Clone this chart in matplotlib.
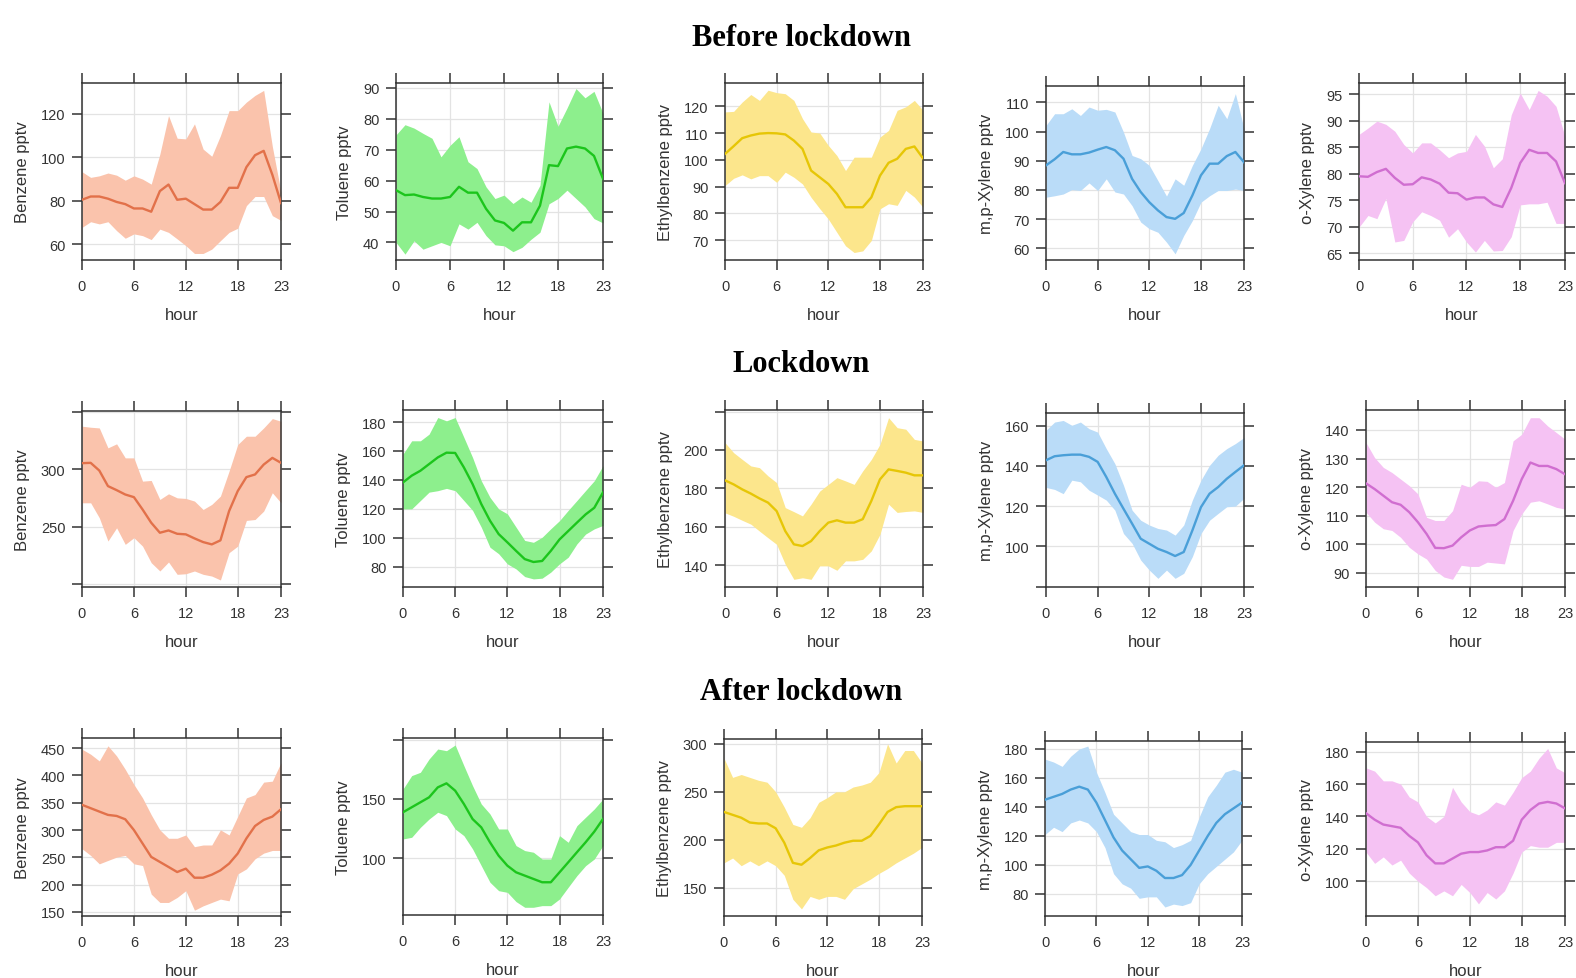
import matplotlib
matplotlib.use("Agg")
import matplotlib.pyplot as plt

plt.rcParams['font.family'] = ['Liberation Sans', 'DejaVu Sans']

hours = list(range(24))
x_ticks = [0, 6, 12, 18, 23]
periods = ["Before lockdown", "Lockdown", "After lockdown"]
species = ["Benzene", "Toluene", "Ethylbenzene", "m,p-Xylene", "o-Xylene"]
ylabels = ["Benzene pptv", "Toluene pptv", "Ethylbenzene pptv", "m,p-Xylene pptv", "o-Xylene pptv"]
line_colors = ["#E2714A", "#1CC51C", "#E6C606", "#4A9FD8", "#D06ED0"]
fill_colors = ["#FAC3AC", "#8DEF8D", "#FCE68C", "#BADCF8", "#F5C2F3"]

# ---------------- Before lockdown ----------------
benz_b_mean = [80.5, 82, 82, 81, 79.5, 78.5, 76.5, 76.5, 75, 84.5, 87.5, 80.5, 81, 78.5, 76, 76, 79.5, 86, 86, 95.5, 101, 103, 92, 79]
benz_b_up = [93.4, 90.8, 91.5, 92.8, 91.8, 89.5, 91.5, 90, 87.7, 101.5, 119.2, 108.8, 108.5, 115.4, 103.8, 100.5, 110, 121.5, 121.5, 125.4, 128.5, 130.8, 105, 84]
benz_b_lo = [67.8, 70.4, 69.4, 70.4, 66.3, 62.8, 64.8, 64, 62.2, 67, 65.5, 62.5, 59.4, 55.8, 55.8, 57.8, 61.7, 65.5, 67.4, 77.8, 82, 82, 73.2, 71]

tol_b_mean = [56.9, 55.3, 55.5, 54.7, 54.2, 54.2, 54.7, 58, 56.1, 56.1, 50.9, 47.1, 46.3, 43.8, 46.5, 46.5, 51.9, 65, 64.7, 70.4, 71, 70.4, 68, 60.6]
tol_b_up = [74.8, 78.1, 77, 75.3, 73.7, 67.7, 71.4, 74.2, 66.1, 63.9, 58, 54.2, 55.3, 52.6, 54.7, 53, 58.5, 85.5, 77.6, 83.5, 89.8, 86.8, 88.9, 81.8]
tol_b_lo = [40, 36.2, 40.5, 37.8, 38.9, 40, 38.9, 46, 44.3, 46.5, 42.2, 39.2, 38.9, 37, 38.4, 41, 43.3, 52.5, 54.2, 56.9, 54.2, 51.5, 47.7, 46.3]

eb_b_mean = [102.2, 105.1, 108.1, 109.1, 109.8, 110, 109.9, 109.5, 107.2, 104.1, 96, 93.5, 91, 87.3, 82.3, 82.3, 82.3, 86, 94.1, 98.9, 100.4, 104.1, 105, 100.6]
eb_b_up = [117.9, 118.1, 121.6, 124.4, 122.2, 126, 125.1, 124.7, 122.2, 115.4, 110.4, 110, 105.4, 101.6, 96, 101, 101, 101, 108.5, 111, 118.5, 119.8, 122.2, 118.5]
eb_b_lo = [90.4, 93.1, 94.4, 92.9, 94.1, 94.1, 91.6, 95.4, 93.5, 91, 86, 81.8, 77.9, 72.9, 67.9, 65.4, 66, 69.9, 81.7, 83.6, 83, 88.6, 86.1, 82.3]

mpx_b_mean = [88.4, 90.5, 93, 92.2, 92.2, 92.8, 93.8, 94.7, 93.6, 90.7, 83.8, 79.3, 75.8, 73, 70.7, 70.1, 72.1, 78.1, 85, 89, 89, 91.6, 93, 89.5]
mpx_b_up = [102.1, 106.1, 106.1, 107.8, 105.5, 108.4, 107.3, 107.6, 106.7, 99.8, 91.8, 90.7, 88.4, 83.2, 77.9, 83.8, 81.6, 88.4, 94.1, 101, 109, 104.4, 113, 101]
mpx_b_lo = [77.5, 78, 78.6, 80.1, 79.8, 82.4, 79.8, 83.8, 79.3, 78.6, 74.6, 69, 66.7, 65.5, 62.1, 58.1, 64.4, 69.5, 75.8, 78, 79.8, 79.8, 80.3, 79.8]

ox_b_mean = [79.5, 79.4, 80.3, 80.9, 79.2, 77.9, 78, 79.3, 78.9, 78.1, 76.4, 76.3, 75.1, 75.5, 75.5, 74.2, 73.7, 77.3, 82, 84.5, 83.9, 83.9, 82.3, 78.2]
ox_b_up = [87.4, 88.6, 89.9, 89.3, 88, 85.5, 83.9, 85.8, 85.8, 84.5, 83, 83.9, 84.2, 87.4, 85.2, 81.1, 82.8, 91.1, 95.2, 92.1, 95.7, 94.6, 92.7, 87]
ox_b_lo = [69.9, 72.1, 71.5, 75.3, 67.1, 67.4, 70.9, 72.8, 72.1, 71.2, 68, 69.6, 67.1, 65.2, 67.4, 65.4, 65.5, 68.1, 74.1, 74.3, 74.3, 74.6, 70.6, 70.6]

# ---------------- Lockdown ----------------
benz_l_mean = [305.2, 305.5, 298.8, 285.3, 281.8, 278, 275.7, 265, 253.5, 244.8, 246.8, 243.9, 243.4, 239.9, 236.7, 234.7, 238.2, 263.6, 281, 293.1, 295.4, 304, 309.8, 305.5]
benz_l_up = [337.3, 336.4, 335.8, 318.5, 322, 309.8, 309.8, 289.6, 290.2, 273.7, 278.6, 275.1, 274.6, 272.3, 265, 269.4, 276.6, 298.3, 321.4, 328.6, 328.6, 335.8, 343.9, 341.6]
benz_l_lo = [270.8, 270.8, 257.8, 237.6, 249.1, 234.7, 240.5, 233.2, 218.8, 211.6, 219.4, 208.7, 209.2, 211.6, 208.7, 207.2, 203.8, 227.5, 233.2, 255.5, 256.3, 263.6, 279.5, 270.8]

tol_l_mean = [138.2, 142.9, 146.3, 150.9, 155.5, 158.8, 158.6, 148.6, 137.1, 123.3, 111.8, 102.5, 96.8, 90.9, 85.2, 83.2, 83.9, 90.9, 98.8, 104.6, 110.4, 116.1, 120.7, 131.3]
tol_l_up = [157.8, 167, 167, 171.6, 183.1, 180.8, 183.1, 169.4, 155.5, 139.4, 127.9, 119.9, 116.5, 107.3, 98.1, 96.8, 100.3, 106.2, 111.8, 118.9, 125.7, 132.6, 139.4, 149.8]
tol_l_lo = [119.9, 119.9, 125.7, 131.5, 132.5, 134.1, 132.5, 125.7, 118.9, 107.3, 93.4, 88.9, 81.9, 78.4, 73.1, 71.5, 72, 76.2, 81.9, 86.5, 95.7, 102.5, 106.1, 108.5]

eb_l_mean = [184.2, 182.1, 179.5, 177.3, 174.8, 172.6, 168.2, 157.8, 150.9, 150, 152.6, 157.8, 162.2, 163.4, 162.2, 162.2, 164, 173.5, 184.7, 189.9, 189.1, 188.2, 186.8, 186.8]
eb_l_up = [203.8, 198.6, 195.1, 191.7, 190.8, 186.5, 183, 170, 167.9, 165.7, 171.8, 178.6, 182.1, 185.6, 183.9, 182.1, 189.1, 195.1, 202.9, 216.8, 211.6, 210.8, 205.5, 204.7]
eb_l_lo = [167.3, 165.5, 163.4, 161.4, 157.8, 154.3, 150.9, 140.5, 132.7, 133.5, 132.7, 139.7, 139.7, 137.4, 142.3, 142.3, 143.1, 147.5, 156.1, 171.8, 167.5, 168, 168.3, 167.5]

mpx_l_mean = [142.8, 144.8, 145.3, 145.6, 145.6, 144.5, 142, 134.5, 126.2, 118.7, 111.3, 103.8, 101.3, 98.8, 97.2, 95.2, 97.2, 107.9, 119.5, 126.2, 129.5, 133.6, 137, 140.3]
mpx_l_up = [157.7, 161.8, 162.6, 160.2, 161.8, 158.5, 156.8, 148.6, 141.1, 130.4, 118, 113, 110.6, 108.9, 108.1, 105.6, 110.6, 123, 132.9, 140.3, 145.3, 148.6, 151.1, 154.1]
mpx_l_lo = [129.3, 128.3, 126.2, 132.9, 132.1, 127.9, 125.5, 123, 118, 106.4, 101.5, 93.2, 88.2, 84.1, 88.2, 84.1, 86.6, 94.9, 106.4, 113, 116.4, 119.7, 120, 123.9]

ox_l_mean = [121.3, 119.3, 117, 114.7, 113.8, 111.2, 107.7, 103.6, 98.7, 98.6, 99.5, 102.4, 104.8, 106.2, 106.5, 106.7, 108.8, 115.2, 122.8, 128.6, 127.4, 127.4, 126.3, 124.5]
ox_l_up = [135.6, 130.3, 126.9, 125.1, 122.8, 120.5, 117.6, 109.4, 108.3, 108.3, 111.7, 121, 119.9, 122.2, 122, 119.9, 121.6, 136.2, 138.5, 144.3, 144.3, 141.4, 139.1, 136.8]
ox_l_lo = [111.2, 107.7, 105.4, 104.8, 102.4, 98.9, 96.6, 94.8, 90.8, 88.5, 87.7, 92.6, 92.2, 92.2, 93.7, 93.4, 93.1, 104.8, 110.6, 114.7, 115.2, 114.1, 112.9, 112.3]

# ---------------- After lockdown ----------------
benz_a_mean = [346.2, 340, 333.8, 327.7, 325.8, 319.7, 300, 275.4, 250.8, 241.6, 232.4, 223.1, 229.3, 212.7, 212.7, 218.2, 226.2, 238.5, 257, 284.6, 307.4, 318.5, 324.6, 338.1]
benz_a_up = [448, 438.8, 426.5, 454.2, 435.7, 411.1, 383.4, 358.8, 328, 300.3, 284.9, 284.9, 291, 269.5, 272.6, 272.6, 300.3, 291, 324.9, 358.8, 364.9, 387.7, 389.5, 423.4]
benz_a_lo = [265.8, 253.5, 238.1, 244.3, 250.4, 253.5, 238.1, 235, 182.7, 167.4, 167.4, 176.6, 188.9, 153.2, 161.2, 167.4, 173.5, 170.4, 219.6, 228.8, 247.3, 257.7, 262.6, 262.6]

tol_a_mean = [138.8, 143, 147.2, 151.4, 159.8, 163.2, 157, 145.8, 133.1, 126.1, 113.5, 102.2, 93.8, 88.2, 85.4, 82.6, 79.8, 79.8, 88.2, 96.6, 105.1, 113.5, 122.5, 133.1]
tol_a_up = [158.4, 169.7, 172.5, 183.7, 192.1, 190.7, 195.5, 178.1, 161.2, 145.8, 137.4, 124.7, 124.7, 110.7, 106.5, 105.1, 99.4, 99.4, 119.1, 113.5, 127.5, 134.6, 141.6, 150]
tol_a_lo = [116.3, 117.7, 126.1, 133.1, 138.8, 136, 124.7, 119.1, 107.9, 93.8, 79.8, 72.7, 71.3, 63.5, 58.7, 58.7, 60.1, 60.1, 65.7, 75.6, 85.4, 93.8, 99.4, 110.7]

eb_a_mean = [229, 226, 223, 218, 217, 217, 212, 197, 176, 174, 181, 189, 192, 194, 197, 199, 199, 204, 216, 229, 234, 235, 235, 235]
eb_a_up = [285, 265, 268, 265, 262, 260, 250, 234, 216, 213, 223, 239, 244, 250, 250, 255, 257, 260, 270, 300, 280, 293, 293, 280]
eb_a_lo = [176, 181, 173, 178, 173, 178, 173, 163, 138, 128, 141, 138, 141, 141, 138, 149, 154, 159, 165, 170, 176, 181, 186, 192]

mpx_a_mean = [145, 147, 149, 152, 154, 152, 143, 131, 119, 110, 104, 98, 99, 96, 91, 91, 93, 100, 110, 120, 129, 135, 139, 143]
mpx_a_up = [173, 171, 168, 175, 180, 182, 164, 150, 135, 129, 123, 121, 121, 117, 116, 112, 114, 117, 133, 147, 155, 164, 166, 164]
mpx_a_lo = [121, 126, 123, 129, 131, 129, 123, 112, 94, 87, 84, 77, 78, 78, 71, 73, 72, 74, 87, 94, 99, 104, 109, 117]

ox_a_mean = [142, 138, 135, 134, 133, 128, 124, 116, 111, 111, 114, 117, 118, 118, 119, 121, 121, 125, 138, 144, 148, 149, 148, 145]
ox_a_up = [170, 168, 162, 162, 160, 152, 149, 140, 136, 140, 158, 149, 143, 141, 144, 149, 147, 155, 164, 168, 176, 182, 170, 167]
ox_a_lo = [118, 111, 115, 110, 113, 105, 100, 96, 91, 94, 91, 98, 93, 86, 93, 89, 94, 105, 118, 122, 121, 121, 124, 124]

series = [
    [(benz_b_mean, benz_b_up, benz_b_lo), (tol_b_mean, tol_b_up, tol_b_lo), (eb_b_mean, eb_b_up, eb_b_lo),
     (mpx_b_mean, mpx_b_up, mpx_b_lo), (ox_b_mean, ox_b_up, ox_b_lo)],
    [(benz_l_mean, benz_l_up, benz_l_lo), (tol_l_mean, tol_l_up, tol_l_lo), (eb_l_mean, eb_l_up, eb_l_lo),
     (mpx_l_mean, mpx_l_up, mpx_l_lo), (ox_l_mean, ox_l_up, ox_l_lo)],
    [(benz_a_mean, benz_a_up, benz_a_lo), (tol_a_mean, tol_a_up, tol_a_lo), (eb_a_mean, eb_a_up, eb_a_lo),
     (mpx_a_mean, mpx_a_up, mpx_a_lo), (ox_a_mean, ox_a_up, ox_a_lo)],
]

# y-axis ranges, tick values, labelled tick values
ylims = [
    [(52.8, 134.2), (34.3, 91.6), (62.6, 128.7), (56, 115.6), (63.7, 97.1)],
    [(197.7, 350.5), (65.9, 188.3), (128.7, 220.8), (79.8, 166.3), (85, 147)],
    [(142.6, 468.5), (52.2, 201.4), (120.6, 305), (64.8, 185.5), (78.5, 186)],
]
yticks = [
    [[60, 80, 100, 120], [40, 50, 60, 70, 80, 90], [70, 80, 90, 100, 110, 120], [60, 70, 80, 90, 100, 110], [65, 70, 75, 80, 85, 90, 95]],
    [[200, 250, 300, 350], [80, 100, 120, 140, 160, 180], [140, 160, 180, 200, 220], [80, 100, 120, 140, 160], [90, 100, 110, 120, 130, 140]],
    [[150, 200, 250, 300, 350, 400, 450], [100, 150, 200], [150, 200, 250, 300], [80, 100, 120, 140, 160, 180], [100, 120, 140, 160, 180]],
]
ylabelled = [
    [[60, 80, 100, 120], [40, 50, 60, 70, 80, 90], [70, 80, 90, 100, 110, 120], [60, 70, 80, 90, 100, 110], [65, 70, 75, 80, 85, 90, 95]],
    [[250, 300], [80, 100, 120, 140, 160, 180], [140, 160, 180, 200], [100, 120, 140, 160], [90, 100, 110, 120, 130, 140]],
    [[150, 200, 250, 300, 350, 400, 450], [100, 150], [150, 200, 250, 300], [80, 100, 120, 140, 160, 180], [100, 120, 140, 160, 180]],
]

# panel boxes in pixels: (left, right, top, bottom)
boxes = [
    [(82, 281, 84, 261), (396, 603, 84, 261), (725, 923, 84, 261), (1046, 1244, 87, 261), (1359, 1565, 84, 261)],
    [(82, 281, 412, 588), (403, 603, 411, 588), (725, 923, 411, 588), (1046, 1244, 414, 588), (1366, 1565, 411, 588)],
    [(82, 281, 739, 917), (403, 603, 739, 916), (724, 922, 740, 917), (1045, 1242, 742, 917), (1366, 1565, 743, 917)],
]
title_y = [38, 365, 692]

W, H = 1576, 979
fig = plt.figure(figsize=(W / 100, H / 100), dpi=100)
fig.patch.set_facecolor("white")

for r in range(3):
    fig.text(801 / W, 1 - title_y[r] / H, periods[r], ha="center", va="center",
             fontsize=22, fontweight="bold", family=["Liberation Serif", "DejaVu Serif"])
    for c in range(5):
        L, R, T, B = boxes[r][c]
        ax = fig.add_axes([L / W, 1 - B / H, (R - L) / W, (B - T) / H])
        mean, up, lo = series[r][c]
        ax.fill_between(hours, lo, up, color=fill_colors[c], linewidth=0, zorder=2)
        ax.plot(hours, mean, color=line_colors[c], linewidth=1.7, zorder=3)
        ax.set_xlim(0, 23)
        ax.set_ylim(*ylims[r][c])
        ax.set_xticks(x_ticks)
        ax.set_xticklabels([str(v) for v in x_ticks])
        ax.set_yticks(yticks[r][c])
        ax.set_yticklabels([str(v) if v in ylabelled[r][c] else "" for v in yticks[r][c]])
        ax.grid(True, color="#E3E3E3", linewidth=0.9, zorder=0)
        ax.set_axisbelow(True)
        ax.tick_params(direction="out", length=7, width=1.1, color="#333333",
                       top=True, right=True, labeltop=False, labelright=False,
                       labelsize=10.5, labelcolor="#333333", pad=5)
        ax.tick_params(axis="x", pad=7)
        for sp in ax.spines.values():
            sp.set_color("#333333")
            sp.set_linewidth(1.1)
        ax.set_xlabel("hour", fontsize=12, color="#333333", labelpad=10)
        ax.set_ylabel(ylabels[c], fontsize=12, color="#333333", labelpad=8)

fig.savefig("out.png", dpi=100, facecolor="white")
